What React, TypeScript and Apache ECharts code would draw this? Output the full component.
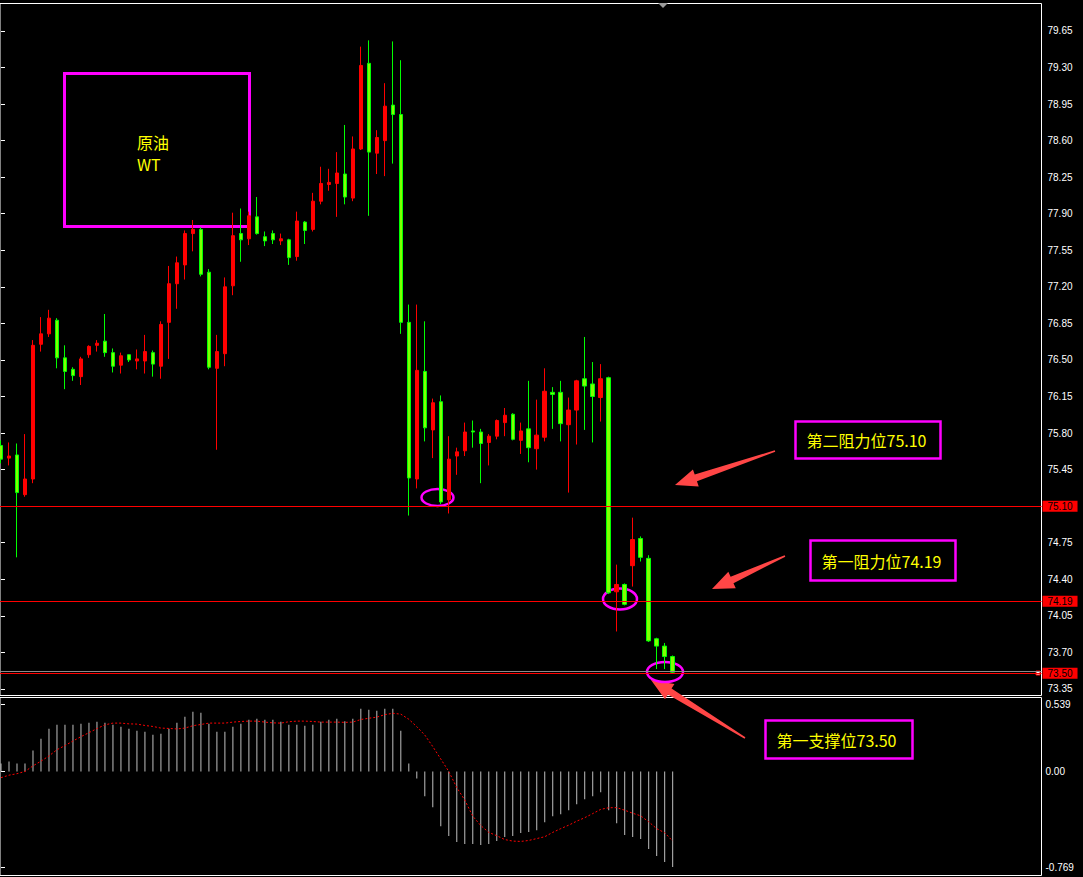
import React, { useEffect, useRef } from "react";
import * as echarts from "echarts";

// WTI crude, hourly candles (oldest first)
const opens = [
  75.68, 75.56, 75.59, 75.21, 75.36, 76.65, 76.75, 76.88, 76.52, 76.41,
  76.34, 76.55, 76.64, 76.68, 76.57, 76.45, 76.55, 76.49, 76.49, 76.57,
  76.44, 76.86, 77.23, 77.41, 77.71, 77.75, 77.34, 76.42, 76.56, 77.21,
  77.71, 77.66, 77.87, 77.68, 77.71, 77.64, 77.65, 77.49, 77.82, 77.75,
  78.02, 78.18, 78.19, 78.28, 78.05, 78.52, 79.34, 78.48, 78.60, 78.94,
  78.85, 76.86, 75.36, 76.39, 75.83, 76.10, 75.16, 75.58, 75.63, 75.82,
  75.81, 75.71, 75.77, 75.90, 75.98, 75.73, 75.84, 75.65, 75.76, 76.19,
  76.19, 75.88, 76.02, 76.32, 76.27, 76.14, 76.33, 74.28, 74.35, 74.53,
  74.79, 74.60, 73.83, 73.76, 73.66,
];
const highs = [
  75.73, 75.71, 75.70, 75.79, 76.69, 76.91, 76.98, 76.90, 76.64, 76.43,
  76.53, 76.64, 76.69, 76.94, 76.61, 76.57, 76.55, 76.60, 76.74, 76.59,
  76.87, 77.40, 77.49, 77.74, 77.84, 77.77, 77.37, 76.74, 77.29, 77.91,
  77.95, 77.92, 78.06, 77.73, 77.74, 77.71, 77.66, 77.92, 77.83, 78.10,
  78.35, 78.33, 78.49, 78.75, 78.64, 79.50, 79.56, 78.70, 79.15, 79.55,
  79.37, 77.03, 77.03, 76.87, 76.13, 76.16, 75.77, 75.66, 75.90, 75.92,
  75.84, 75.79, 75.93, 76.04, 75.99, 75.90, 76.30, 76.12, 76.42, 76.24,
  76.30, 76.14, 76.31, 76.72, 76.48, 76.46, 76.34, 74.54, 74.36, 74.99,
  74.81, 74.63, 73.84, 73.79, 73.67,
];
const lows = [
  75.51, 75.49, 74.61, 75.19, 75.32, 76.58, 76.72, 76.42, 76.22, 76.30,
  76.26, 76.52, 76.58, 76.53, 76.38, 76.37, 76.48, 76.41, 76.37, 76.34,
  76.32, 76.51, 76.99, 77.27, 77.54, 77.30, 76.41, 75.64, 76.44, 77.12,
  77.44, 77.60, 77.70, 77.59, 77.61, 77.60, 77.41, 77.45, 77.61, 77.73,
  77.99, 78.12, 77.87, 77.99, 78.02, 78.51, 77.88, 78.28, 78.26, 78.38,
  76.75, 75.01, 75.27, 75.72, 75.56, 75.12, 75.03, 75.40, 75.58, 75.66,
  75.32, 75.49, 75.74, 75.77, 75.73, 75.60, 75.52, 75.45, 75.72, 75.84,
  75.72, 75.23, 75.69, 75.83, 75.71, 75.91, 74.26, 73.90, 74.15, 74.33,
  74.57, 73.80, 73.54, 73.54, 73.50,
];
const closes = [
  75.55, 75.58, 75.23, 75.36, 76.64, 76.75, 76.90, 76.52, 76.39, 76.35,
  76.51, 76.63, 76.66, 76.57, 76.44, 76.54, 76.50, 76.51, 76.58, 76.46,
  76.84, 77.23, 77.43, 77.71, 77.75, 77.32, 76.43, 76.58, 77.20, 77.69,
  77.65, 77.88, 77.71, 77.64, 77.65, 77.66, 77.48, 77.83, 77.74, 78.02,
  78.19, 78.20, 78.29, 78.06, 78.52, 79.32, 78.49, 78.63, 78.93, 78.85,
  76.86, 75.37, 76.40, 75.85, 76.09, 75.14, 75.55, 75.62, 75.81, 75.81,
  75.70, 75.77, 75.92, 75.97, 75.74, 75.82, 75.66, 75.78, 76.20, 76.17,
  75.89, 76.02, 76.30, 76.25, 76.15, 76.32, 74.27, 74.35, 74.16, 74.78,
  74.61, 73.81, 73.76, 73.66, 73.51,
];

// MACD histogram and its signal line
const macdHist = [
  0.064, 0.08, 0.064, 0.064, 0.168, 0.264, 0.344, 0.376, 0.376, 0.376,
  0.384, 0.392, 0.4, 0.392, 0.376, 0.36, 0.344, 0.328, 0.32, 0.296,
  0.304, 0.344, 0.392, 0.44, 0.48, 0.472, 0.384, 0.32, 0.32, 0.36,
  0.384, 0.416, 0.424, 0.416, 0.416, 0.4, 0.376, 0.376, 0.368, 0.376,
  0.4, 0.416, 0.424, 0.404, 0.424, 0.504, 0.496, 0.488, 0.504, 0.504,
  0.328, 0.064, -0.056, -0.2, -0.288, -0.44, -0.52, -0.568, -0.584, -0.584,
  -0.592, -0.584, -0.56, -0.528, -0.52, -0.496, -0.488, -0.472, -0.408, -0.36,
  -0.344, -0.312, -0.264, -0.224, -0.2, -0.168, -0.312, -0.416, -0.512, -0.528,
  -0.544, -0.624, -0.68, -0.728, -0.769,
];
const macdSignal = [
  -0.05, -0.03, -0.018, 0.0, 0.045, 0.083, 0.125, 0.175, 0.208, 0.245,
  0.28, 0.312, 0.345, 0.375, 0.389, 0.389, 0.383, 0.381, 0.37, 0.362,
  0.349, 0.346, 0.342, 0.349, 0.368, 0.378, 0.389, 0.389, 0.389, 0.397,
  0.402, 0.405, 0.405, 0.397, 0.391, 0.389, 0.4, 0.405, 0.405, 0.402,
  0.397, 0.397, 0.397, 0.395, 0.397, 0.418, 0.428, 0.437, 0.457, 0.468,
  0.461, 0.42, 0.36, 0.293, 0.2, 0.1, 0.0, -0.13, -0.23, -0.36,
  -0.435, -0.49, -0.517, -0.548, -0.56, -0.563, -0.555, -0.54, -0.525, -0.49,
  -0.46, -0.432, -0.4, -0.372, -0.339, -0.305, -0.292, -0.291, -0.312, -0.336,
  -0.357, -0.405, -0.46, -0.493, -0.56,
];

const priceTicks = [
  79.65, 79.3, 78.95, 78.6, 78.25, 77.9, 77.55, 77.2, 76.85, 76.5,
  76.15, 75.8, 75.45, 75.1, 74.75, 74.4, 74.05, 73.7, 73.35,
];
const macdTicks = [0.539, 0, -0.769];
const macdTickLabels = ["0.539", "0.00", "-0.769"];

// Key levels: resistance 2, resistance 1, support 1
const levels = [75.1, 74.19, 73.5];
const levelNames = ["第二阻力位", "第一阻力位", "第一支撑位"];
const bidPrice = 73.515;

const PRICE_MIN = 73.287;
const PRICE_MAX = 79.913;
const MACD_MIN = -0.837;
const MACD_MAX = 0.595;
const X_MIN = -0.125;
const X_MAX = X_MIN + 1042 / 8;

const MAGENTA = "#ff00ff";
const YELLOW = "#ffff00";
const ARROW_RED = "#ff4646";
const CJK = '"Noto Sans CJK SC", sans-serif';

function arrowPoints(x1: number, y1: number, x2: number, y2: number) {
  const len = Math.hypot(x2 - x1, y2 - y1);
  const dx = (x2 - x1) / len;
  const dy = (y2 - y1) / len;
  const nx = -dy;
  const ny = dx;
  const headLen = 22;
  const headW = 18;
  const shaftW = 7;
  const tailW = 1.5;
  const bx = x2 - dx * headLen;
  const by = y2 - dy * headLen;
  return [
    [x1 + (nx * tailW) / 2, y1 + (ny * tailW) / 2],
    [bx + (nx * shaftW) / 2, by + (ny * shaftW) / 2],
    [bx + (nx * headW) / 2, by + (ny * headW) / 2],
    [x2, y2],
    [bx - (nx * headW) / 2, by - (ny * headW) / 2],
    [bx - (nx * shaftW) / 2, by - (ny * shaftW) / 2],
    [x1 - (nx * tailW) / 2, y1 - (ny * tailW) / 2],
  ];
}

function noteBox(x: number, y: number, w: number, h: number, text: string) {
  return {
    type: "group",
    children: [
      {
        type: "rect",
        shape: { x, y, width: w, height: h },
        style: { fill: "none", stroke: MAGENTA, lineWidth: 2.5 },
      },
      {
        type: "text",
        x: x + 11,
        y: y + h / 2,
        style: {
          text,
          fill: YELLOW,
          fontSize: 16,
          fontFamily: CJK,
          verticalAlign: "middle",
          align: "left",
        },
      },
    ],
  };
}

export default function App() {
  const ref = useRef<HTMLDivElement>(null);

  useEffect(() => {
    if (!ref.current) return;
    const chart = echarts.init(ref.current, null, { renderer: "svg" });

    const candles = opens.map((o, i) => [i, o, closes[i], lows[i], highs[i]]);
    const hist = macdHist.map((v, i) => [i, v]);
    const signal = macdSignal.map((v, i) => [i, v]);

    const axisFont = { color: "#ffffff", fontSize: 10, fontFamily: "Liberation Sans" };

    chart.setOption({
      animation: false,
      backgroundColor: "#000000",
      grid: [
        {
          left: -0.5, top: 3.5, width: 1042, height: 692,
          show: true, borderColor: "#ffffff", borderWidth: 1, backgroundColor: "transparent",
        },
        {
          left: -0.5, top: 697.5, width: 1042, height: 178,
          show: true, borderColor: "#ffffff", borderWidth: 1, backgroundColor: "transparent",
        },
      ],
      xAxis: [
        { type: "value", gridIndex: 0, min: X_MIN, max: X_MAX, show: false },
        { type: "value", gridIndex: 1, min: X_MIN, max: X_MAX, show: false },
      ],
      yAxis: [
        {
          type: "value", gridIndex: 0, position: "right",
          min: PRICE_MIN, max: PRICE_MAX,
          splitLine: { show: false },
          axisLine: { show: false },
          axisTick: { show: true, customValues: priceTicks, length: 4, lineStyle: { color: "#ffffff" } },
          axisLabel: {
            ...axisFont, margin: 6, customValues: priceTicks,
            formatter: (v: number) => v.toFixed(2),
          },
        },
        {
          type: "value", gridIndex: 1, position: "right",
          min: MACD_MIN, max: MACD_MAX,
          splitLine: { show: false },
          axisLine: { show: false },
          axisTick: { show: true, customValues: macdTicks, length: 4, lineStyle: { color: "#ffffff" } },
          axisLabel: {
            ...axisFont, margin: 4, customValues: macdTicks,
            formatter: (v: number) => {
              const k = macdTicks.findIndex((t) => Math.abs(t - v) < 1e-6);
              return k >= 0 ? macdTickLabels[k] : "";
            },
          },
        },
      ],
      series: [
        {
          type: "candlestick",
          xAxisIndex: 0,
          yAxisIndex: 0,
          data: candles,
          encode: { x: 0, y: [1, 2, 3, 4] },
          barWidth: 4,
          itemStyle: {
            color: "#ff0000",
            color0: "#80ff00",
            borderColor: "#ff0000",
            borderColor0: "#00ff00",
            borderWidth: 1,
          },
          markLine: {
            silent: true,
            symbol: ["none", "none"],
            animation: false,
            data: [
              {
                yAxis: bidPrice,
                lineStyle: { color: "#8c8c8c", width: 1, type: "solid" },
                label: { show: false },
              },
              ...levels.map((v) => ({
                yAxis: v,
                lineStyle: { color: "#ff0000", width: 1, type: "solid" },
                label: {
                  show: true,
                  position: "end",
                  distance: 1,
                  formatter: (p: any) => Number(p.value).toFixed(2),
                  backgroundColor: "#ff0000",
                  color: "#000000",
                  fontSize: 10,
                  fontFamily: "Liberation Sans",
                  padding: [1, 5, 0, 5],
                },
              })),
            ],
          },
        },
        {
          type: "bar",
          xAxisIndex: 1,
          yAxisIndex: 1,
          data: hist,
          barWidth: 1,
          itemStyle: { color: "#c0c0c0" },
        },
        {
          type: "line",
          xAxisIndex: 1,
          yAxisIndex: 1,
          data: signal,
          symbol: "none",
          showSymbol: false,
          lineStyle: { color: "#ff0000", width: 1, type: [2, 2] },
        },
      ],
      graphic: [
        // chart-shift marker
        {
          type: "polygon",
          shape: { points: [[658, 3], [668, 3], [663, 8]] },
          style: { fill: "#9a9a9a" },
        },
        // end handle of the support line
        {
          type: "rect",
          shape: { x: 1036, y: 671, width: 4, height: 4 },
          style: { fill: "#ffffff", stroke: "#ff0000", lineWidth: 1 },
        },
        // instrument title box
        {
          type: "rect",
          shape: { x: 64.5, y: 73.5, width: 185, height: 153 },
          style: { fill: "none", stroke: MAGENTA, lineWidth: 3 },
        },
        {
          type: "text",
          x: 137,
          y: 142,
          style: { text: "原油", fill: YELLOW, fontSize: 16, fontFamily: CJK, verticalAlign: "middle" },
        },
        {
          type: "text",
          x: 137,
          y: 164,
          style: { text: "WT", fill: YELLOW, fontSize: 16, fontFamily: CJK, verticalAlign: "middle" },
        },
        noteBox(795.5, 421.5, 145, 37, levelNames[0] + levels[0].toFixed(2)),
        noteBox(810.5, 540.5, 145, 40, levelNames[1] + levels[1].toFixed(2)),
        noteBox(765.5, 720.5, 147, 38, levelNames[2] + levels[2].toFixed(2)),
        // pointers
        { type: "polygon", shape: { points: arrowPoints(775, 451, 675, 485) }, style: { fill: ARROW_RED } },
        { type: "polygon", shape: { points: arrowPoints(785, 556, 712, 589) }, style: { fill: ARROW_RED } },
        { type: "polygon", shape: { points: arrowPoints(745, 738, 651, 680) }, style: { fill: ARROW_RED } },
        // circled turning points
        {
          type: "ellipse",
          shape: { cx: 437.5, cy: 497.5, rx: 16, ry: 8.5 },
          style: { fill: "none", stroke: MAGENTA, lineWidth: 2.5 },
        },
        {
          type: "ellipse",
          shape: { cx: 620, cy: 599, rx: 17, ry: 10.5 },
          style: { fill: "none", stroke: MAGENTA, lineWidth: 2.5 },
        },
        {
          type: "ellipse",
          shape: { cx: 665, cy: 672, rx: 18, ry: 10 },
          style: { fill: "none", stroke: MAGENTA, lineWidth: 2.5 },
        },
      ],
    });

    return () => chart.dispose();
  }, []);

  return (
    <div
      ref={ref}
      style={{ position: "absolute", left: 0, top: 0, width: 1083, height: 877 }}
    />
  );
}
